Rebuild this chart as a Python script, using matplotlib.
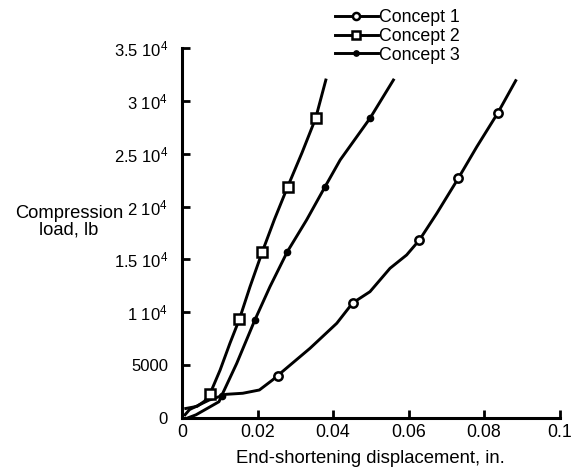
import matplotlib
matplotlib.use("Agg")
from matplotlib import pyplot as plt
import numpy as np

plt.rcParams['font.family'] = ['Liberation Sans', 'DejaVu Sans']
plt.rcParams['mathtext.fontset'] = 'custom'
plt.rcParams['mathtext.rm'] = 'Liberation Sans'
plt.rcParams['mathtext.default'] = 'regular'

# end-shortening (in.) and load (lb) for each panel concept
c1_disp = [0.0008, 0.002, 0.005, 0.0072, 0.0117, 0.0161, 0.0205, 0.024, 0.0253,
           0.0339, 0.041, 0.0452, 0.0498, 0.0551, 0.0595, 0.0629, 0.0675, 0.0732,
           0.0781, 0.0836, 0.0884]
c1_load = [300, 800, 1320, 1700, 2240, 2340, 2650, 3600, 4000,
           6590, 8960, 10880, 11950, 14160, 15420, 16840, 19360, 22680,
           25660, 28820, 31910]
c1_marks = [8, 11, 15, 17, 19]

c2_disp = [0.001, 0.004, 0.006, 0.0074, 0.0101, 0.0127, 0.0152, 0.018, 0.0213,
           0.0245, 0.028, 0.0318, 0.0354, 0.0381]
c2_load = [900, 1100, 1600, 2270, 4540, 7070, 9340, 12400, 15750,
           18800, 21880, 25100, 28350, 31970]
c2_marks = [3, 6, 8, 10, 12]

c3_disp = [0.0015, 0.0037, 0.0098, 0.0105, 0.0145, 0.0193, 0.0233, 0.0279,
           0.033, 0.0379, 0.0419, 0.0498, 0.056]
c3_load = [0, 300, 1540, 2110, 5170, 9270, 12420, 15730,
           18730, 21880, 24410, 28350, 31970]
c3_marks = [3, 5, 7, 9, 11]

x_ticks = [0, 0.02, 0.04, 0.06, 0.08, 0.1]
x_labels = ['0', '0.02', '0.04', '0.06', '0.08', '0.1']
y_ticks = [0, 5000, 10000, 15000, 20000, 25000, 30000, 35000]
y_labels = ['0', '5000', r'1 10$^4$', r'1.5 10$^4$', r'2 10$^4$',
            r'2.5 10$^4$', r'3 10$^4$', r'3.5 10$^4$']

fig = plt.figure(figsize=(5.73, 4.71), dpi=100)
ax = fig.add_axes([182/573, 1 - 418/471, 377.5/573, 370/471])

lw = 2.1
ax.plot(c1_disp, c1_load, color='black', lw=lw, marker='o', markevery=c1_marks,
        markersize=6, markerfacecolor='white', markeredgewidth=1.8, label='Concept 1')
ax.plot(c2_disp, c2_load, color='black', lw=lw, marker='s', markevery=c2_marks,
        markersize=6.5, markerfacecolor='white', markeredgewidth=1.8, label='Concept 2')
ax.plot(c3_disp, c3_load, color='black', lw=lw, marker='o', markevery=c3_marks,
        markersize=4.5, markerfacecolor='black', label='Concept 3')

ax.set_xlim(0, 0.1)
ax.set_ylim(0, 35000)
ax.set_xticks(x_ticks)
ax.set_xticklabels(x_labels)
ax.set_yticks(y_ticks)
ax.set_yticklabels(y_labels)

for side in ['top', 'right']:
    ax.spines[side].set_visible(False)
for side in ['left', 'bottom']:
    ax.spines[side].set_linewidth(2.2)
    ax.spines[side].set_capstyle('projecting')

ax.tick_params(direction='in', length=6, width=2)
ax.tick_params(axis='x', labelsize=12.8, pad=4)
ax.tick_params(axis='y', labelsize=12, pad=10)

ax.set_xlabel('End-shortening displacement, in.', fontsize=13.3, labelpad=7)
ax.set_ylabel('Compression\nload, lb', fontsize=13.2, rotation=0,
              ha='center', va='center', linespacing=1.0)
ax.yaxis.set_label_coords(-0.299, 0.53)

ax.legend(loc='upper left', bbox_to_anchor=(335/573, 1 - 9/471),
          bbox_transform=fig.transFigure, frameon=False, fontsize=12.8,
          handlelength=2.4, handletextpad=0.05, labelspacing=0.1,
          borderpad=0, borderaxespad=0, markerscale=0.85)

fig.savefig('out.png', dpi=100)
